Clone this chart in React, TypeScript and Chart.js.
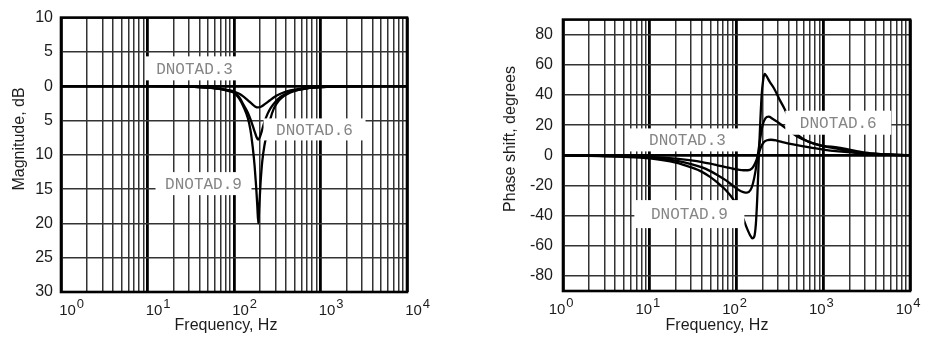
import React, { useEffect, useRef } from "react";
import { Chart, registerables } from "chart.js";

Chart.register(...registerables);

type Pt = [number, number];

const SERIES = ["DNOTAD.3", "DNOTAD.6", "DNOTAD.9"];

// Magnitude, dB  [frequency Hz, dB]
const MAG_DNOTAD3: Pt[] = [
  [1, 0], [10, 0], [20, -0.02], [30, -0.06], [40, -0.12], [50, -0.2], [60, -0.28],
  [70, -0.38], [80, -0.5], [90, -0.62], [100, -0.78], [115, -1.1], [130, -1.55],
  [145, -2.05], [160, -2.55], [175, -2.95], [190, -3.1], [205, -3.0], [220, -2.75],
  [240, -2.4], [260, -2.05], [290, -1.6], [330, -1.2], [380, -0.9], [450, -0.62],
  [550, -0.42], [700, -0.25], [900, -0.15], [1200, -0.08], [2000, -0.03], [4000, 0], [10000, 0],
];
const MAG_DNOTAD6: Pt[] = [
  [1, 0], [10, 0], [30, -0.06], [50, -0.2], [70, -0.4], [90, -0.7], [100, -0.9],
  [115, -1.6], [130, -2.8], [145, -3.9], [160, -5.3], [172, -6.5], [182, -7.4],
  [190, -7.8], [198, -7.5], [210, -6.5], [225, -5.2], [245, -4.0], [265, -3.2],
  [300, -2.3], [350, -1.5], [420, -0.95], [520, -0.6], [700, -0.3], [1000, -0.14],
  [2000, -0.03], [10000, 0],
];
const MAG_DNOTAD9: Pt[] = [
  [1, 0], [10, 0], [30, -0.06], [50, -0.2], [70, -0.42], [90, -0.75], [100, -0.95],
  [115, -1.8], [130, -3.1], [145, -4.7], [155, -6.4], [165, -9.0], [173, -11.6],
  [180, -14.5], [186, -17.5], [191, -20], [196, -17.5], [203, -14], [212, -11],
  [225, -8.6], [240, -7.0], [260, -5.0], [290, -3.2], [330, -2.1], [380, -1.4],
  [450, -0.9], [550, -0.55], [700, -0.3], [1000, -0.14], [2000, -0.03], [10000, 0],
];

// Phase shift, degrees  [frequency Hz, degrees]
const PHASE_DNOTAD3: Pt[] = [
  [1, 0], [2, -0.2], [5, -0.5], [10, -1.0], [20, -2.2], [30, -3.4], [40, -4.5],
  [50, -5.6], [60, -6.6], [75, -7.8], [90, -8.8], [105, -9.5], [120, -9.9], [135, -9.9],
  [150, -8.8], [160, -6.5], [170, -3], [180, 1], [190, 5], [205, 8.5], [225, 10],
  [250, 10.3], [290, 9.8], [350, 8.6], [450, 7.2], [600, 5.9], [800, 4.7], [1000, 3.8],
  [1500, 2.6], [2500, 1.5], [3500, 1.0], [5000, 0.5], [7000, 0.2], [10000, 0.1],
];
const PHASE_DNOTAD6: Pt[] = [
  [1, 0], [2, -0.3], [5, -0.8], [10, -1.6], [20, -3.6], [30, -5.8], [40, -8.0],
  [50, -10.5], [60, -13], [75, -16.5], [90, -20], [105, -22.8], [120, -24.4],
  [132, -24.8], [145, -23], [155, -18.5], [165, -11], [172, -4], [180, 4], [190, 13],
  [200, 20], [215, 24.5], [235, 25.6], [260, 24.3], [300, 22], [350, 19], [420, 15.5],
  [500, 12.5], [650, 9.5], [850, 7.2], [1000, 6], [1500, 4.1], [2500, 2], [3500, 1.1],
  [5000, 0.6], [7000, 0.25], [10000, 0.1],
];
const PHASE_DNOTAD9: Pt[] = [
  [1, 0], [2, -0.4], [5, -1.0], [10, -2.0], [20, -4.8], [30, -8], [40, -11],
  [50, -14.5], [60, -18], [75, -23], [90, -28.5], [105, -35], [118, -41], [130, -47.5],
  [142, -52.5], [152, -55], [160, -54], [167, -46], [173, -30], [178, -12], [182, 3],
  [188, 22], [195, 40], [203, 50], [211, 54], [222, 52.5], [240, 49], [273, 44],
  [310, 37.5], [356, 31], [420, 22], [485, 15], [600, 10.5], [800, 7.5], [1000, 6.3],
  [1500, 5.1], [2500, 2.6], [3500, 1.3], [5000, 0.7], [7000, 0.3], [10000, 0.1],
];

const X_DECADES = [1, 10, 100, 1000, 10000];
const X_EXPONENTS = ["0", "1", "2", "3", "4"];
const MAG_TICKS = [10, 5, 0, -5, -10, -15, -20, -25, -30];
const PHASE_TICKS = [80, 60, 40, 20, 0, -20, -40, -60, -80];

// series-name tags: anchor in data units, box size in px
const MAG_TAGS = [
  { name: SERIES[0], f: 35, v: 2.6, w: 98, h: 24 },
  { name: SERIES[1], f: 853, v: -6.3, w: 102, h: 22 },
  { name: SERIES[2], f: 44.4, v: -14.2, w: 96, h: 23 },
];
const PHASE_TAGS = [
  { name: SERIES[0], f: 27.2, v: 10.2, w: 118, h: 23 },
  { name: SERIES[1], f: 1490, v: 21.6, w: 106, h: 24 },
  { name: SERIES[2], f: 28.6, v: -39, w: 110, h: 28 },
];

const SANS = '"Liberation Sans", Arial, Helvetica, sans-serif';
const MONO = '"Liberation Mono", "Courier New", monospace';

const X_GRID: number[] = [];
for (let d = 1; d < 10000; d *= 10) for (let k = 1; k <= 9; k++) X_GRID.push(k * d);
X_GRID.push(10000);

const isDecade = (v: number) => Math.abs(Math.log10(v) - Math.round(Math.log10(v))) < 1e-9;

interface PanelCfg {
  series: Pt[][];
  yMin: number;
  yMax: number;
  yTicks: number[];
  yFmt: (v: number) => string;
  yTitle: string;
  tags: { name: string; f: number; v: number; w: number; h: number }[];
  padTop: number;
  padRight: number;
  yWidth: number;
  xHeight: number;
  yTickPad: number;
  xLabelDx: number;
  xTitleX: number;
  yTitleX: number;
  titleMidY: number;
}

const MAG_CFG: PanelCfg = {
  series: [MAG_DNOTAD3, MAG_DNOTAD6, MAG_DNOTAD9],
  yMin: -30,
  yMax: 10,
  yTicks: MAG_TICKS,
  yFmt: (v) => String(Math.abs(v)),
  yTitle: "Magnitude, dB",
  tags: MAG_TAGS,
  padTop: 17,
  padRight: 56,
  yWidth: 61,
  xHeight: 46,
  yTickPad: 8,
  xLabelDx: 6.5,
  xTitleX: 226,
  yTitleX: 20,
  titleMidY: 139,
};

const PHASE_CFG: PanelCfg = {
  series: [PHASE_DNOTAD3, PHASE_DNOTAD6, PHASE_DNOTAD9],
  yMin: -90,
  yMax: 90,
  yTicks: PHASE_TICKS,
  yFmt: (v) => String(v),
  yTitle: "Phase shift, degrees",
  tags: PHASE_TAGS,
  padTop: 18,
  padRight: 16,
  yWidth: 100,
  xHeight: 47,
  yTickPad: 10,
  xLabelDx: -6,
  xTitleX: 254,
  yTitleX: 48,
  titleMidY: 139,
};

function makeChart(canvas: HTMLCanvasElement, cfg: PanelCfg) {
  const deco = {
    id: "deco",
    afterDatasetsDraw(chart: any) {
      const { ctx, chartArea: a } = chart;
      const x = chart.scales.x;
      const y = chart.scales.y;
      ctx.save();
      for (const t of cfg.tags) {
        const cx = x.getPixelForValue(t.f);
        const cy = y.getPixelForValue(t.v);
        ctx.fillStyle = "#ffffff";
        ctx.fillRect(cx - t.w / 2, cy - t.h / 2, t.w, t.h);
        ctx.fillStyle = "#858585";
        ctx.font = `16px ${MONO}`;
        ctx.textAlign = "center";
        ctx.textBaseline = "middle";
        ctx.fillText(t.name, cx, cy + 1);
      }
      ctx.strokeStyle = "#000";
      ctx.lineWidth = 2.6;
      ctx.strokeRect(a.left, a.top, a.right - a.left, a.bottom - a.top);
      ctx.restore();
    },
    afterDraw(chart: any) {
      const { ctx, chartArea: a } = chart;
      const x = chart.scales.x;
      ctx.save();
      ctx.fillStyle = "#1c1c1c";
      X_DECADES.forEach((d, i) => {
        const px = x.getPixelForValue(d) + cfg.xLabelDx;
        ctx.font = `15px ${SANS}`;
        const w = ctx.measureText("10").width;
        ctx.textAlign = "center";
        ctx.textBaseline = "alphabetic";
        ctx.fillText("10", px, a.bottom + 23);
        ctx.font = `13px ${SANS}`;
        ctx.textAlign = "left";
        ctx.fillText(X_EXPONENTS[i], px + w / 2 + 1, a.bottom + 16);
      });
      ctx.font = `16px ${SANS}`;
      ctx.textAlign = "center";
      ctx.textBaseline = "middle";
      ctx.fillText("Frequency, Hz", cfg.xTitleX, 326);
      ctx.translate(cfg.yTitleX, cfg.titleMidY);
      ctx.rotate(-Math.PI / 2);
      ctx.fillText(cfg.yTitle, 0, 0);
      ctx.restore();
    },
  };

  return new Chart(canvas, {
    type: "line",
    data: {
      datasets: cfg.series.map((s, i) => ({
        label: SERIES[i],
        data: s.map(([f, v]) => ({ x: f, y: v })),
        borderColor: "#000",
        borderWidth: 2.3,
        pointRadius: 0,
        fill: false,
        cubicInterpolationMode: "monotone" as const,
      })),
    },
    options: {
      responsive: false,
      animation: false,
      devicePixelRatio: 1,
      layout: { padding: { left: 0, top: cfg.padTop, right: cfg.padRight, bottom: 0 } },
      plugins: { legend: { display: false }, tooltip: { enabled: false } },
      scales: {
        x: {
          type: "logarithmic",
          min: 1,
          max: 10000,
          afterBuildTicks: (scale: any) => {
            scale.ticks = X_GRID.map((v) => ({ value: v }));
          },
          afterFit: (scale: any) => {
            scale.height = cfg.xHeight;
          },
          ticks: { display: false },
          border: { display: false },
          grid: {
            drawTicks: false,
            color: (c: any) => (c.tick && isDecade(c.tick.value) ? "#000" : "#333"),
            lineWidth: (c: any) => (c.tick && isDecade(c.tick.value) ? 2.8 : 1.5),
          },
        },
        y: {
          type: "linear",
          min: cfg.yMin,
          max: cfg.yMax,
          afterBuildTicks: (scale: any) => {
            scale.ticks = cfg.yTicks.map((v) => ({ value: v }));
          },
          afterFit: (scale: any) => {
            scale.width = cfg.yWidth;
          },
          border: { display: false },
          ticks: {
            padding: cfg.yTickPad,
            color: "#1c1c1c",
            font: { family: SANS, size: 16 },
            callback: (v: any) => cfg.yFmt(Number(v)),
          },
          grid: {
            drawTicks: false,
            color: (c: any) => (c.tick && c.tick.value === 0 ? "#000" : "#333"),
            lineWidth: (c: any) => (c.tick && c.tick.value === 0 ? 2.8 : 1.5),
          },
        },
      },
    },
    plugins: [deco],
  } as any);
}

function Panel({ cfg, left }: { cfg: PanelCfg; left: number }) {
  const ref = useRef<HTMLCanvasElement | null>(null);
  useEffect(() => {
    if (!ref.current) return;
    const chart = makeChart(ref.current, cfg);
    return () => chart.destroy();
  }, [cfg]);
  return (
    <canvas
      ref={ref}
      width={463}
      height={338}
      style={{ position: "absolute", left, top: 0, width: 463, height: 338 }}
    />
  );
}

export default function App() {
  return (
    <div
      style={{
        position: "absolute",
        left: 0,
        top: 0,
        width: 926,
        height: 338,
        background: "#fff",
        overflow: "hidden",
      }}
    >
      <Panel cfg={MAG_CFG} left={0} />
      <Panel cfg={PHASE_CFG} left={463} />
    </div>
  );
}
